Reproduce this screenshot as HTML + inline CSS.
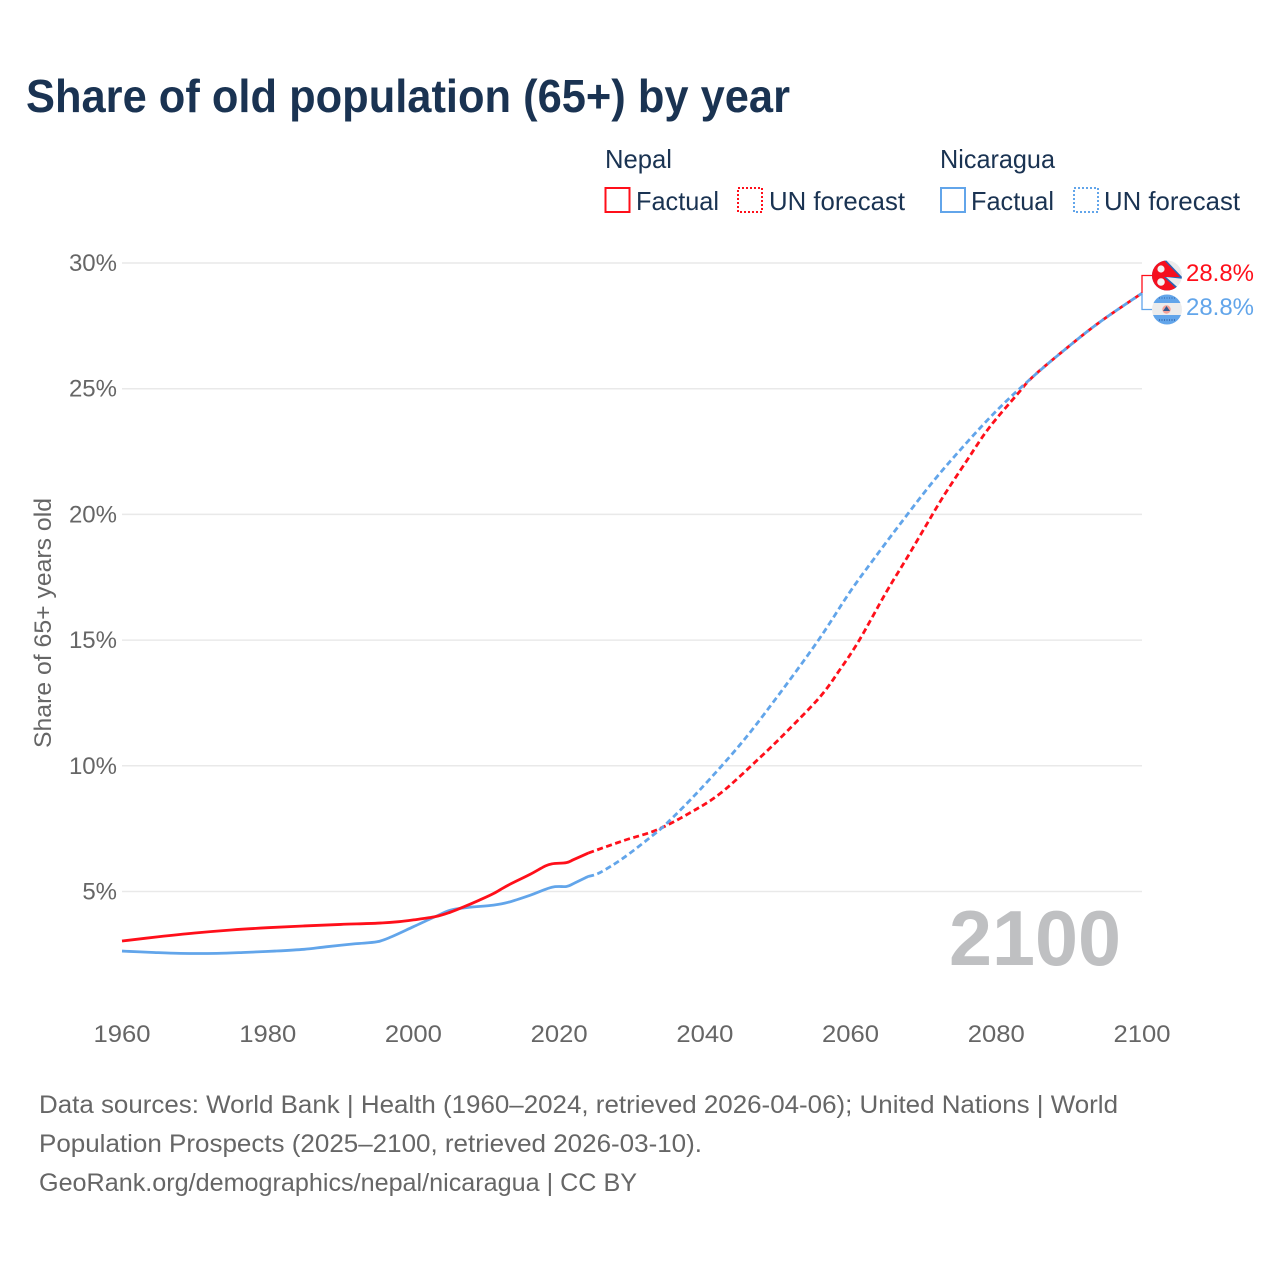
<!DOCTYPE html>
<html lang="en">
<head>
<meta charset="utf-8">
<title>Share of old population (65+) by year</title>
<style>
html,body{margin:0;padding:0;background:#fff;width:1280px;height:1280px;overflow:hidden}
svg{display:block}
text{font-family:"Liberation Sans",sans-serif}
.leg{font-size:26px;fill:#1a3352}
.foot{font-size:25px;fill:#666}
.tick{font-size:24px;fill:#666}
</style>
</head>
<body>
<svg id="chart" width="1280" height="1280" viewBox="0 0 1280 1280" xmlns="http://www.w3.org/2000/svg">
  <rect width="1280" height="1280" fill="#fff"/>
  <text x="26" y="112" font-size="46" font-weight="700" fill="#1a3352" textLength="764" lengthAdjust="spacingAndGlyphs">Share of old population (65+) by year</text>

  <g>
    <text class="leg" x="605" y="168" textLength="67" lengthAdjust="spacingAndGlyphs">Nepal</text>
    <rect x="605.5" y="188" width="24" height="24" fill="none" stroke="#ff0f1a" stroke-width="2"/>
    <text class="leg" x="636" y="210" textLength="83" lengthAdjust="spacingAndGlyphs">Factual</text>
    <rect x="738" y="188" width="24" height="24" fill="none" stroke="#ff0f1a" stroke-width="2" stroke-dasharray="2 2"/>
    <text class="leg" x="769" y="210" textLength="136" lengthAdjust="spacingAndGlyphs">UN forecast</text>

    <text class="leg" x="940" y="168" textLength="115" lengthAdjust="spacingAndGlyphs">Nicaragua</text>
    <rect x="941" y="188" width="24" height="24" fill="none" stroke="#62a5ea" stroke-width="2"/>
    <text class="leg" x="971" y="210" textLength="83" lengthAdjust="spacingAndGlyphs">Factual</text>
    <rect x="1074" y="188" width="24" height="24" fill="none" stroke="#62a5ea" stroke-width="2" stroke-dasharray="2 2"/>
    <text class="leg" x="1104" y="210" textLength="136" lengthAdjust="spacingAndGlyphs">UN forecast</text>
  </g>

  <g id="grid"></g>
  <g id="yticks"></g>
  <g id="xticks"></g>
  <text transform="translate(51 623) rotate(-90)" text-anchor="middle" font-size="24" fill="#666" textLength="250" lengthAdjust="spacingAndGlyphs">Share of 65+ years old</text>
  <text x="949" y="965" font-size="78" font-weight="700" fill="#bfc0c2" textLength="172" lengthAdjust="spacingAndGlyphs">2100</text>
  <g id="series"></g>
  <g id="ends"></g>

  <defs>
    <clipPath id="clip-np"><circle cx="1167" cy="275.5" r="15"/></clipPath>
    <clipPath id="clip-ni"><circle cx="1167" cy="309.5" r="15"/></clipPath>
  </defs>
  <g clip-path="url(#clip-np)">
    <rect x="1150" y="258" width="34" height="36" fill="#ececec"/>
    <polygon points="1150,258 1164,258 1184,279 1166,277 1184,293 1150,293" fill="#2a66b4"/>
    <polygon points="1150,258 1162,258 1180,277 1164,277 1181,293 1150,293" fill="#f5101f"/>
    <circle cx="1161" cy="269" r="3.6" fill="#f3f3f3"/>
    <circle cx="1161" cy="282" r="3.8" fill="#f3f3f3"/>
  </g>
  <g clip-path="url(#clip-ni)">
    <rect x="1150" y="293" width="34" height="33" fill="#ececec"/>
    <rect x="1150" y="293" width="34" height="10" fill="#62a5ea"/>
    <rect x="1150" y="315" width="34" height="11" fill="#62a5ea"/>
    <line x1="1159" y1="298" x2="1176" y2="298" stroke="#2f62a8" stroke-width="1" stroke-dasharray="1 1.5"/>
    <line x1="1159" y1="320" x2="1176" y2="320" stroke="#2f62a8" stroke-width="1.5" stroke-dasharray="1 1.5"/>
    <circle cx="1166.5" cy="309.5" r="4.2" fill="#f3a29a"/>
    <polygon points="1166.5,306 1170,311 1163,311" fill="#33598f"/>
  </g>

  <g>
    <text class="foot" x="39" y="1113" textLength="1079" lengthAdjust="spacingAndGlyphs">Data sources: World Bank | Health (1960–2024, retrieved 2026-04-06); United Nations | World</text>
    <text class="foot" x="39" y="1152" textLength="663" lengthAdjust="spacingAndGlyphs">Population Prospects (2025–2100, retrieved 2026-03-10).</text>
    <text class="foot" x="39" y="1191" textLength="598" lengthAdjust="spacingAndGlyphs">GeoRank.org/demographics/nepal/nicaragua | CC BY</text>
  </g>
</svg>
<script>
var xTickYears = [1960, 1980, 2000, 2020, 2040, 2060, 2080, 2100];
var yTickValues = [5, 10, 15, 20, 25, 30];

var nepalFactualYears = [1960, 1965, 1970, 1975, 1980, 1985, 1990, 1995, 1998, 2000, 2003, 2005, 2007, 2009, 2011, 2013, 2016, 2018, 2019, 2021, 2022, 2024];
var nepalFactualValues = [3.03, 3.2, 3.35, 3.47, 3.56, 3.63, 3.69, 3.74, 3.8, 3.87, 4.0, 4.17, 4.4, 4.65, 4.92, 5.25, 5.68, 6.0, 6.1, 6.15, 6.27, 6.53];
var nepalForecastYears = [2024, 2028.8, 2033.4, 2037.9, 2042.2, 2047.5, 2051.2, 2055.8, 2058.5, 2061.2, 2064.9, 2067.8, 2070.4, 2072.7, 2076, 2079, 2082.8, 2085, 2089.6, 2094.2, 2100];
var nepalForecastValues = [6.53, 7.02, 7.45, 8.12, 8.92, 10.31, 11.35, 12.74, 13.81, 15.0, 16.91, 18.3, 19.58, 20.7, 22.16, 23.44, 24.75, 25.47, 26.6, 27.65, 28.8];

var nicaraguaFactualYears = [1960, 1964, 1968, 1973, 1977, 1981, 1985, 1988, 1992, 1995, 1997, 2000, 2003, 2005, 2007, 2011, 2013, 2016, 2019, 2021, 2022, 2024];
var nicaraguaFactualValues = [2.63, 2.58, 2.54, 2.54, 2.58, 2.63, 2.7, 2.8, 2.92, 3.0, 3.2, 3.6, 4.0, 4.25, 4.35, 4.46, 4.57, 4.85, 5.17, 5.2, 5.32, 5.6];
var nicaraguaForecastYears = [2024, 2025.6, 2028.8, 2032.4, 2034.8, 2039.3, 2044.8, 2049.3, 2055.4, 2059.9, 2063, 2066.7, 2071.3, 2075.9, 2080.4, 2085, 2089.6, 2094.2, 2100];
var nicaraguaForecastValues = [5.6, 5.75, 6.33, 7.13, 7.72, 9.04, 10.83, 12.5, 14.92, 16.91, 18.15, 19.58, 21.3, 22.84, 24.23, 25.47, 26.6, 27.65, 28.8];

var endLabelNepal = "28.8%";
var endLabelNicaragua = "28.8%";

var NS = "http://www.w3.org/2000/svg";
function xScale(year) { return 122 + (year - 1960) * (1142 - 122) / 140; }
function yScale(value) { return 891.5 - (value - 5) * (891.5 - 263) / 25; }

function make(parent, tag, attrs) {
  var el = document.createElementNS(NS, tag);
  for (var k in attrs) el.setAttribute(k, attrs[k]);
  parent.appendChild(el);
  return el;
}

function linePath(years, values) {
  var pts = years.map(function (y, i) { return [xScale(y), yScale(values[i])]; });
  var d = "M" + pts[0][0].toFixed(2) + " " + pts[0][1].toFixed(2);
  for (var i = 0; i < pts.length - 1; i++) {
    var p0 = pts[Math.max(i - 1, 0)], p1 = pts[i], p2 = pts[i + 1], p3 = pts[Math.min(i + 2, pts.length - 1)];
    var c1x = p1[0] + (p2[0] - p0[0]) / 6, c1y = p1[1] + (p2[1] - p0[1]) / 6;
    var c2x = p2[0] - (p3[0] - p1[0]) / 6, c2y = p2[1] - (p3[1] - p1[1]) / 6;
    d += "C" + c1x.toFixed(2) + " " + c1y.toFixed(2) + " " + c2x.toFixed(2) + " " + c2y.toFixed(2) + " " + p2[0].toFixed(2) + " " + p2[1].toFixed(2);
  }
  return d;
}

var gridG = document.getElementById("grid");
var yG = document.getElementById("yticks");
var xG = document.getElementById("xticks");
var seriesG = document.getElementById("series");
var endsG = document.getElementById("ends");

yTickValues.forEach(function (v) {
  var ln = make(gridG, "line", { x1: xScale(1960), x2: xScale(2100), y1: yScale(v), y2: yScale(v), stroke: "#e9e9e9", "stroke-width": 1.5 });
  
  
  var t = make(yG, "text", { x: 117, y: yScale(v) + 8, "text-anchor": "end", "class": "tick" });
  
  
  t.textContent = v + "%";
});

xTickYears.forEach(function (yr) {
  var t = make(xG, "text", { x: xScale(yr), y: 1042, "text-anchor": "middle", "class": "tick", textLength: 57, lengthAdjust: "spacingAndGlyphs" });
  
  
  t.textContent = yr;
});

var RED = "#ff0f1a", BLUE = "#62a5ea";

var pNiF = make(seriesG, "path", { d: linePath(nicaraguaFactualYears, nicaraguaFactualValues), fill: "none", stroke: BLUE, "stroke-width": 2.8, "stroke-linejoin": "round" });



var pNpF = make(seriesG, "path", { d: linePath(nepalFactualYears, nepalFactualValues), fill: "none", stroke: RED, "stroke-width": 2.8, "stroke-linejoin": "round" });



var pNpU = make(seriesG, "path", { d: linePath(nepalForecastYears, nepalForecastValues), fill: "none", stroke: RED, "stroke-width": 2.8, "stroke-dasharray": "6 3.5" });



var pNiU = make(seriesG, "path", { d: linePath(nicaraguaForecastYears, nicaraguaForecastValues), fill: "none", stroke: BLUE, "stroke-width": 2.8, "stroke-dasharray": "6 3.5" });



var lastNp = nepalForecastValues[nepalForecastValues.length - 1];
var lastNi = nicaraguaForecastValues[nicaraguaForecastValues.length - 1];

var cNp = make(endsG, "polyline", { points: xScale(2100) + "," + yScale(lastNp) + " " + xScale(2100) + ",275.5 1152,275.5", fill: "none", stroke: RED, "stroke-width": 1.3 });



var cNi = make(endsG, "polyline", { points: xScale(2100) + "," + yScale(lastNi) + " " + xScale(2100) + ",309.5 1152,309.5", fill: "none", stroke: BLUE, "stroke-width": 1.3 });



var tNp = make(endsG, "text", { x: 1186, y: 281, "font-size": 24, fill: RED, textLength: 68, lengthAdjust: "spacingAndGlyphs" });


tNp.textContent = endLabelNepal;

var tNi = make(endsG, "text", { x: 1186, y: 315, "font-size": 24, fill: BLUE, textLength: 68, lengthAdjust: "spacingAndGlyphs" });


tNi.textContent = endLabelNicaragua;
</script>
</body>
</html>
